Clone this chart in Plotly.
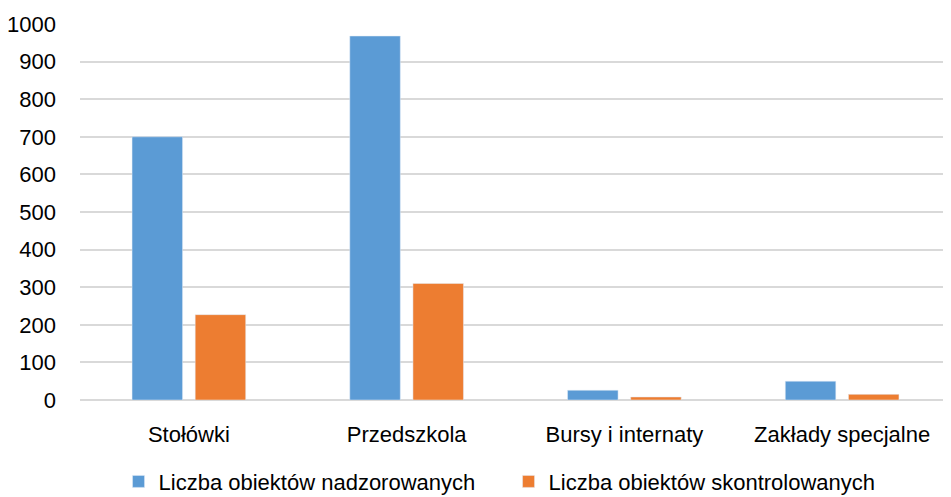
import plotly.graph_objects as go

categories = ["Stołówki", "Przedszkola", "Bursy i internaty", "Zakłady specjalne"]
nadzorowane = [700, 968, 26, 50]
skontrolowane = [227, 310, 8, 15]

# page body has an 8px default margin, so the figure is a bit smaller than the window
fig = go.Figure()
fig.add_trace(go.Bar(x=categories, y=nadzorowane, name="Liczba obiektów nadzorowanych",
                     marker_color="#5b9bd5"))
fig.add_trace(go.Bar(x=categories, y=skontrolowane, name="Liczba obiektów skontrolowanych",
                     marker_color="#ed7d31"))

fig.update_layout(
    width=943, height=489,
    margin=dict(l=72, r=0, t=16, b=97, autoexpand=False),
    paper_bgcolor="white", plot_bgcolor="white",
    font=dict(family="Liberation Sans, Arial", size=22, color="black"),
    barmode="group", bargap=0.42, bargroupgap=0.2,
    showlegend=True,
    legend=dict(orientation="h", x=0.492, xanchor="center", y=-0.217, yanchor="middle",
                font=dict(size=22), entrywidth=345, itemwidth=30),
    xaxis=dict(showgrid=False, showline=False, ticks="", automargin=False,
               ticklabelstandoff=19),
    yaxis=dict(range=[0, 1000], dtick=100, showgrid=True, gridcolor="#d9d9d9", gridwidth=1.5,
               zeroline=True, zerolinecolor="#d9d9d9", zerolinewidth=1.5,
               ticks="", ticklabelstandoff=23, automargin=False),
)

fig.write_html("out.html")
